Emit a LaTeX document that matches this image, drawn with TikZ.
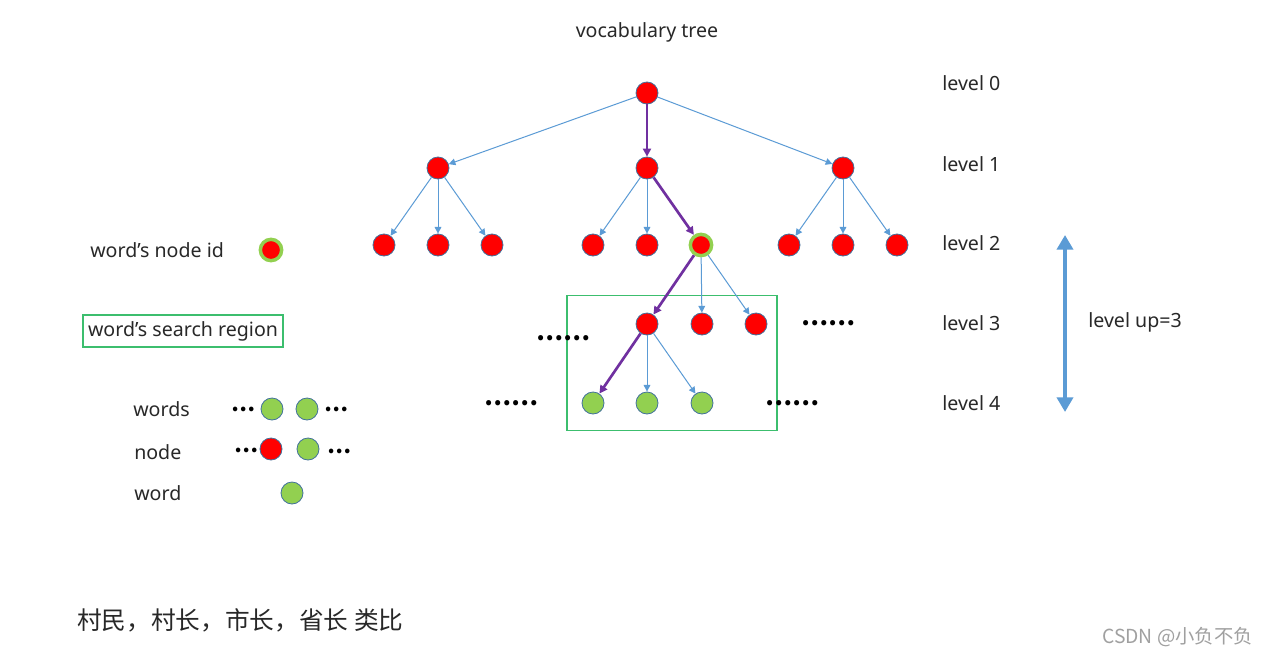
\documentclass[tikz,border=0pt]{standalone}
\usepackage{fontspec}
\setmainfont{Noto Sans}
\newfontfamily\cjk{Noto Sans CJK SC}
\usetikzlibrary{arrows.meta}
\definecolor{nodered}{RGB}{255,0,0}
\definecolor{nodegreen}{RGB}{146,208,80}
\definecolor{nodeborder}{RGB}{65,113,156}
\definecolor{bluearrow}{RGB}{91,155,213}
\definecolor{purplearrow}{RGB}{112,48,160}
\definecolor{boxgreen}{RGB}{60,190,110}
\definecolor{txt}{RGB}{40,40,40}
\definecolor{wm}{RGB}{160,160,160}
\begin{document}
\begin{tikzpicture}[x=0.75pt,y=-0.75pt,
  rnode/.style={circle,fill=nodered,draw=nodeborder,line width=0.6pt,minimum size=16.5pt,inner sep=0pt},
  gnode/.style={circle,fill=nodegreen,draw=nodeborder,line width=0.6pt,minimum size=16.5pt,inner sep=0pt},
  idnode/.style={circle,fill=nodered,draw=nodegreen,line width=2.6pt,minimum size=16pt,inner sep=0pt},
  barrow/.style={draw=bluearrow,line width=0.75pt,-{Triangle[length=5pt,width=5pt]}},
  parrow/.style={draw=purplearrow,line width=2pt,-{Triangle[length=6pt,width=6pt]}},
  lbl/.style={font=\fontsize{14.7}{17}\selectfont,text=txt,inner sep=0pt,anchor=west},
  dots/.style={font=\cjk\bfseries\fontsize{18}{20}\selectfont,text=black,inner sep=0pt},
  ldots/.style={font=\cjk\bfseries\fontsize{16}{18}\selectfont,text=black,inner sep=0pt},
]
\useasboundingbox (0,0) rectangle (1267,657);
\fill[white] (0,0) rectangle (1267,657);

% title and level labels
\node[lbl,anchor=center] (title) at (647,32) {vocabulary tree};
\node[lbl] (l0) at (942,83) {level 0};
\node[lbl] (l1) at (942,164) {level 1};
\node[lbl] (l2) at (942,243) {level 2};
\node[lbl] (l3) at (942,323) {level 3};
\node[lbl] (l4) at (942,403) {level 4};

% search region box
\node[draw=boxgreen,line width=1.1pt,minimum width=157.5pt,minimum height=101.5pt,inner sep=0pt] (region) at (672,363) {};

% tree nodes
\node[rnode] (r) at (647,93) {};
\node[rnode] (a) at (438,168) {};
\node[rnode] (b) at (647,168) {};
\node[rnode] (c) at (843,168) {};
\node[rnode] (a1) at (384,245) {};
\node[rnode] (a2) at (438,245) {};
\node[rnode] (a3) at (492,245) {};
\node[rnode] (b1) at (593,245) {};
\node[rnode] (b2) at (647,245) {};
\node[idnode] (b3) at (701,245) {};
\node[rnode] (c1) at (789,245) {};
\node[rnode] (c2) at (843,245) {};
\node[rnode] (c3) at (897,245) {};
\node[rnode] (d1) at (647,324) {};
\node[rnode] (d2) at (702,324) {};
\node[rnode] (d3) at (756,324) {};
\node[gnode] (e1) at (593,403) {};
\node[gnode] (e2) at (647,403) {};
\node[gnode] (e3) at (702,403) {};

% connectors
\draw[barrow] (r) -- (a);
\draw[parrow] (r) -- (b);
\draw[barrow] (r) -- (c);
\draw[barrow] (a) -- (a1);
\draw[barrow] (a) -- (a2);
\draw[barrow] (a) -- (a3);
\draw[barrow] (b) -- (b1);
\draw[barrow] (b) -- (b2);
\draw[parrow] (b) -- (b3);
\draw[barrow] (c) -- (c1);
\draw[barrow] (c) -- (c2);
\draw[barrow] (c) -- (c3);
\draw[parrow] (b3) -- (d1);
\draw[barrow] (b3) -- (d2);
\draw[barrow] (b3) -- (d3);
\draw[parrow] (d1) -- (e1);
\draw[barrow] (d1) -- (e2);
\draw[barrow] (d1) -- (e3);

% ellipses in tree
\node[dots] (t1) at (563,338) {……};
\node[dots] (t2) at (828,323) {……};
\node[dots] (t3) at (511,403) {……};
\node[dots] (t4) at (792,403) {……};

% level up arrow
\coordinate (ua) at (1065,235);
\coordinate (ub) at (1065,412);
\draw[draw=bluearrow,line width=3.6pt,{Triangle[length=11pt,width=12pt]}-{Triangle[length=11pt,width=12pt]}] (ua) -- (ub);
\node[lbl] (lu) at (1088,322) {level up=3};

% legend
\node[lbl] (lid) at (90,250) {word’s node id};
\node[idnode] (gid) at (271,250) {};
\node[lbl,draw=boxgreen,line width=0.9pt,minimum width=150pt,minimum height=24pt,anchor=center] (lsr) at (183,331) {word’s search region};
\node[lbl] (lws) at (133,409) {words};
\node[ldots] (w0) at (243,409) {⋯};
\node[gnode] (w1) at (272,409) {};
\node[gnode] (w2) at (307,409) {};
\node[ldots] (w3) at (336,409) {⋯};
\node[lbl] (lnd) at (134,452) {node};
\node[ldots] (n0) at (246,450) {⋯};
\node[rnode] (n1) at (271,449) {};
\node[gnode] (n2) at (308,449) {};
\node[ldots] (n3) at (339,451) {⋯};
\node[lbl] (lw) at (134,493) {word};
\node[gnode] (wd) at (292,493) {};

% footer
\node[lbl,font=\cjk\fontsize{18.5}{22}\selectfont] (cn) at (77,620) {村民，村长，市长，省长 类比};
\node[lbl,font=\cjk\fontsize{14.5}{16}\selectfont,text=wm] (csdn) at (1102,637) {CSDN @小负不负};
\end{tikzpicture}
\end{document}
